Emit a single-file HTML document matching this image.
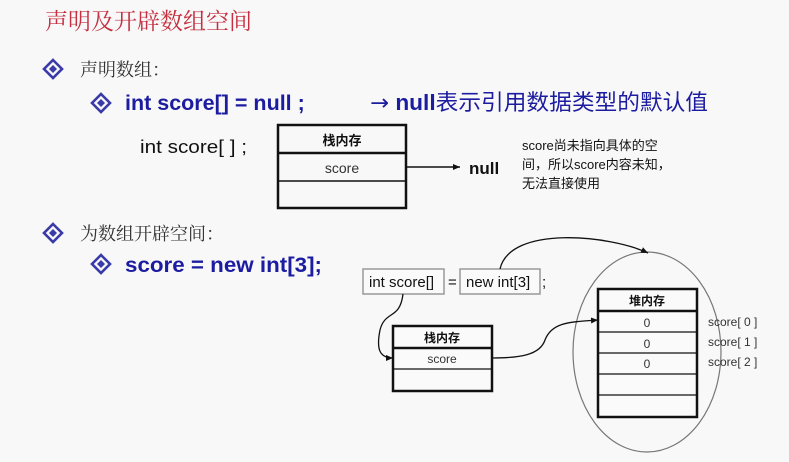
<!DOCTYPE html>
<html><head><meta charset="utf-8"><style>
html,body{margin:0;padding:0;background:#f8f8f8;}
svg{display:block}
</style></head><body>
<svg width="789" height="462" viewBox="0 0 789 462" xmlns="http://www.w3.org/2000/svg">
<defs>
<marker id="ah" markerWidth="8" markerHeight="8" refX="7" refY="4" orient="auto" markerUnits="userSpaceOnUse"><path d="M0,1 L7,4 L0,7 z" fill="#111"/></marker>
<g id="dia"><path d="M0,-9 L9,0 L0,9 L-9,0 z" fill="none" stroke="#3a3aa8" stroke-width="2.6"/><path d="M0,-4 L4,0 L0,4 L-4,0 z" fill="#3a3aa8"/></g>
</defs>
<rect width="789" height="462" fill="#f8f8f8"/>
<text x="45" y="29" font-family="'Noto Serif CJK SC','Liberation Serif',serif" font-size="23" fill="#c43040">声明及开辟数组空间</text>

<use href="#dia" x="53" y="69"/>
<text x="80" y="76" font-family="'Noto Serif CJK SC','Liberation Serif',serif" font-size="18" fill="#333">声明数组：</text>
<use href="#dia" x="101" y="103"/>
<text x="125" y="110" font-family="'Liberation Sans','Noto Sans CJK SC',sans-serif" font-size="21.5" font-weight="bold" fill="#1c1ca0">int score[] = null ;</text>
<text x="370" y="110" font-family="'Liberation Sans','Noto Sans CJK SC',sans-serif" font-size="22" fill="#1c1ca0" textLength="338" lengthAdjust="spacingAndGlyphs"><tspan font-family="'DejaVu Sans',sans-serif">→</tspan><tspan font-weight="bold"> null</tspan>表示引用数据类型的默认值</text>

<text x="140" y="153" font-family="'Liberation Sans',sans-serif" font-size="18" fill="#111" textLength="107" lengthAdjust="spacingAndGlyphs">int score[ ] ;</text>
<g stroke="#111" fill="none">
<rect x="278" y="125" width="128" height="83" stroke-width="2.5"/>
<line x1="278" y1="153" x2="406" y2="153" stroke-width="2.5"/>
<line x1="278" y1="181" x2="406" y2="181" stroke-width="1.5"/>
<line x1="406" y1="167" x2="460" y2="167" stroke-width="1.5" marker-end="url(#ah)"/>
</g>
<text x="342" y="145" text-anchor="middle" font-family="'Noto Sans CJK SC',sans-serif" font-size="13" font-weight="bold" fill="#111">栈内存</text>
<text x="342" y="173" text-anchor="middle" font-family="'Liberation Sans',sans-serif" font-size="14" fill="#333">score</text>
<text x="469" y="174" font-family="'Liberation Sans',sans-serif" font-size="17" font-weight="bold" fill="#111">null</text>
<g font-family="'Liberation Sans','Noto Sans CJK SC',sans-serif" font-size="13" fill="#111">
<text x="522" y="150">score尚未指向具体的空</text>
<text x="522" y="169">间，所以score内容未知，</text>
<text x="522" y="188">无法直接使用</text>
</g>

<use href="#dia" x="53" y="233"/>
<text x="80" y="240" font-family="'Noto Serif CJK SC','Liberation Serif',serif" font-size="18" fill="#333">为数组开辟空间：</text>
<use href="#dia" x="101" y="264"/>
<text x="125" y="272" font-family="'Liberation Sans',sans-serif" font-size="21.5" font-weight="bold" fill="#1c1ca0" textLength="197" lengthAdjust="spacingAndGlyphs">score = new int[3];</text>

<!-- lower diagram -->
<ellipse cx="647" cy="352" rx="74" ry="100" fill="none" stroke="#777" stroke-width="1.2"/>
<g stroke="#999" fill="#fafafa" stroke-width="1.5">
<rect x="363" y="269" width="81" height="25"/>
<rect x="460" y="269" width="80" height="25"/>
</g>
<g font-family="'Liberation Sans',sans-serif" font-size="15" fill="#111">
<text x="369" y="287">int score[]</text>
<text x="448" y="287">=</text>
<text x="466" y="287">new int[3]</text>
<text x="542" y="287">;</text>
</g>
<g stroke="#111" fill="none" stroke-width="1.3">
<path d="M500,269 C510,225 610,235 648,253" marker-end="url(#ah)"/>
<path d="M403,294 C400,320 385,310 380,330 C376,350 380,358 393,358" marker-end="url(#ah)"/>
<path d="M492,358 C520,358 540,355 545,340 C552,322 570,322 598,320" marker-end="url(#ah)"/>
</g>
<g stroke="#111" fill="#fafafa">
<rect x="393" y="326" width="99" height="65" stroke-width="2.5"/>
<line x1="393" y1="348" x2="492" y2="348" stroke-width="2.5"/>
<line x1="393" y1="369" x2="492" y2="369" stroke-width="1.2"/>
<rect x="598" y="289" width="99" height="128" stroke-width="2.5"/>
<line x1="598" y1="311" x2="697" y2="311" stroke-width="2.5"/>
<line x1="598" y1="332" x2="697" y2="332" stroke-width="1.2"/>
<line x1="598" y1="353" x2="697" y2="353" stroke-width="1.2"/>
<line x1="598" y1="374" x2="697" y2="374" stroke-width="1.2"/>
<line x1="598" y1="395" x2="697" y2="395" stroke-width="1.2"/>
</g>
<text x="442" y="342" text-anchor="middle" font-family="'Noto Sans CJK SC',sans-serif" font-size="12" font-weight="bold" fill="#111">栈内存</text>
<text x="442" y="363" text-anchor="middle" font-family="'Liberation Sans',sans-serif" font-size="12" fill="#333">score</text>
<text x="647" y="305" text-anchor="middle" font-family="'Noto Sans CJK SC',sans-serif" font-size="12" font-weight="bold" fill="#111">堆内存</text>
<g font-family="'Liberation Sans',sans-serif" font-size="12" fill="#333">
<text x="647" y="327" text-anchor="middle">0</text>
<text x="647" y="348" text-anchor="middle">0</text>
<text x="647" y="368" text-anchor="middle">0</text>
<text x="708" y="326">score[ 0 ]</text>
<text x="708" y="346">score[ 1 ]</text>
<text x="708" y="366">score[ 2 ]</text>
</g>
</svg>
</body></html>
